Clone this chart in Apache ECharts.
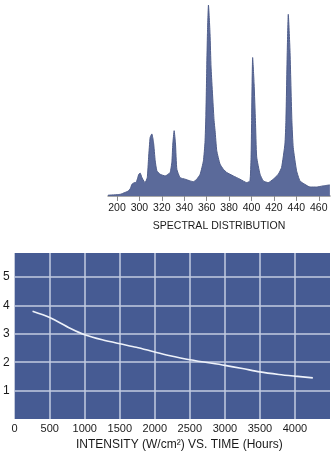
<!DOCTYPE html>
<html>
<head>
<meta charset="utf-8">
<script src="https://cdn.jsdelivr.net/npm/echarts@6/dist/echarts.min.js"></script>
<style>
  html, body { margin: 0; padding: 0; background: #ffffff; }
  #chart { width: 335px; height: 452px; }
</style>
</head>
<body>
<div id="chart"></div>
<script>
// Lamp emission spectrum: wavelength (nm) and relative intensity
var specWavelength = [272, 274, 280, 283, 287, 290, 292, 293.3, 295.4, 297.2, 298.5, 299.5, 300.7, 302, 303, 305, 307, 308.2, 309.6, 311.1, 312.6, 314.1, 315.6, 318.5, 323, 327.4, 329, 329.8, 331, 332.2, 333.4, 336.3, 340.8, 345.2, 348.2, 351.2, 354.2, 357.1, 358.5, 359.3, 360.1, 360.7, 361.6, 363.0, 363.9, 366.6, 367.5, 369, 371.9, 374.9, 377.9, 383.8, 389.7, 395.7, 398.6, 399.6, 400.1, 400.5, 401.0, 402.3, 403.5, 404.6, 407.6, 410.5, 414.9, 419.4, 423.9, 426.8, 429.8, 430.7, 431.9, 432.8, 434.3, 436.0, 437.2, 440.2, 443.2, 447.6, 452.1, 458, 463.9, 469.9];
var specIntensity = [0.4, 0.5, 0.7, 0.9, 1.8, 2.6, 4.0, 6.1, 7.0, 7.2, 9.5, 11.4, 12.0, 10.0, 8.8, 7.0, 9.5, 20, 30.7, 32.5, 28.1, 18.4, 13.2, 11.4, 10.5, 12.3, 18, 27.2, 34.2, 27.2, 14, 9.6, 8.8, 7.9, 7.5, 8.8, 11.4, 18.4, 28, 42, 67.5, 85, 100, 85, 67.5, 39.5, 34.2, 23.7, 16.7, 14, 12.3, 10.5, 8.8, 7.0, 7.9, 20, 39.5, 58.8, 72.5, 58.8, 39.5, 20.5, 11.4, 7.9, 7.0, 8.8, 11.4, 14.9, 27.2, 39.5, 76.3, 95.1, 76.3, 39.5, 25.4, 13.2, 7.9, 6.1, 4.7, 4.7, 5.3, 5.8];
var specTickValues = [280, 300, 320, 340, 360, 380, 400, 420, 440, 460];
var specTickLabels = ['200', '300', '320', '340', '360', '380', '400', '420', '440', '460'];

// Intensity decay over lamp life
var lifeHours = [255, 500, 790, 1000, 1250, 1500, 1735, 2000, 2200, 2500, 3000, 3250, 3500, 3770, 4000, 4255];
var lifeIntensity = [3.80, 3.58, 3.20, 2.97, 2.79, 2.65, 2.53, 2.36, 2.24, 2.09, 1.89, 1.78, 1.66, 1.57, 1.51, 1.45];
var lifeTickValues = [0, 500, 1000, 1500, 2000, 2500, 3000, 3500, 4000];
var levelTickValues = [1, 2, 3, 4, 5];

var textFont = '"Liberation Sans", Arial, sans-serif';

var chart = echarts.init(document.getElementById('chart'), null, { renderer: 'canvas' });

chart.setOption({
  animation: false,
  backgroundColor: '#ffffff',
  grid: [
    { left: 108, top: 5, width: 222, height: 191, containLabel: false },
    { left: 12, top: 253, width: 318, height: 168, containLabel: false,
      show: true, backgroundColor: '#465b93', borderWidth: 0 }
  ],
  xAxis: [
    {
      gridIndex: 0, type: 'value', min: 272, max: 470,
      axisLine: { show: true, lineStyle: { color: '#8a8a8a', width: 1.5 } },
      axisTick: { show: true, length: 5, lineStyle: { color: '#8a8a8a', width: 1 },
        customValues: specTickValues },
      axisLabel: {
        customValues: specTickValues, margin: 7, hideOverlap: false,
        color: '#1a1a1a', fontSize: 10.5, fontFamily: textFont,
        formatter: function (v) {
          var i = specTickValues.indexOf(v);
          return i >= 0 ? specTickLabels[i] : '';
        }
      },
      splitLine: { show: false },
      name: 'SPECTRAL DISTRIBUTION', nameLocation: 'middle', nameGap: 25,
      nameTextStyle: { color: '#1a1a1a', fontSize: 10.5, fontFamily: textFont }
    },
    {
      gridIndex: 1, type: 'value', min: 0, max: 4500, interval: 500,
      axisLine: { show: false }, axisTick: { show: false },
      axisLabel: { customValues: lifeTickValues, margin: 4, hideOverlap: false,
        color: '#1a1a1a', fontSize: 11, fontFamily: textFont,
        formatter: function (v) { return String(v); } },
      splitLine: { show: true, showMinLine: false, showMaxLine: false,
        lineStyle: { color: '#c3cbe0', width: 1.5 } },
      name: 'INTENSITY (W/cm\u00b2) VS. TIME (Hours)', nameLocation: 'middle', nameGap: 20,
      nameTextStyle: { color: '#1a1a1a', fontSize: 12, fontFamily: textFont,
        padding: [0, 0, 0, 14] }
    }
  ],
  yAxis: [
    { gridIndex: 0, type: 'value', min: 0, max: 100, show: false },
    {
      gridIndex: 1, type: 'value', min: 0, max: 5.85, interval: 1,
      axisLine: { show: false }, axisTick: { show: false },
      axisLabel: { customValues: levelTickValues, margin: 5, color: '#1a1a1a',
        fontSize: 12, fontFamily: textFont,
        formatter: function (v) { return String(v); } },
      splitLine: { show: true, showMinLine: false, showMaxLine: false,
        lineStyle: { color: '#c3cbe0', width: 1.5 } }
    }
  ],
  series: [
    {
      type: 'line', xAxisIndex: 0, yAxisIndex: 0,
      data: specWavelength.map(function (w, i) { return [w, specIntensity[i]]; }),
      showSymbol: false, smooth: 0.15,
      lineStyle: { color: '#4f5d8a', width: 1 },
      areaStyle: { color: '#5b6a9a', opacity: 1 }
    },
    {
      type: 'line', xAxisIndex: 1, yAxisIndex: 1,
      data: lifeHours.map(function (h, i) { return [h, lifeIntensity[i]]; }),
      showSymbol: false, smooth: 0.3,
      lineStyle: { color: '#eef2fa', width: 1.6 }
    }
  ]
});
</script>
</body>
</html>
